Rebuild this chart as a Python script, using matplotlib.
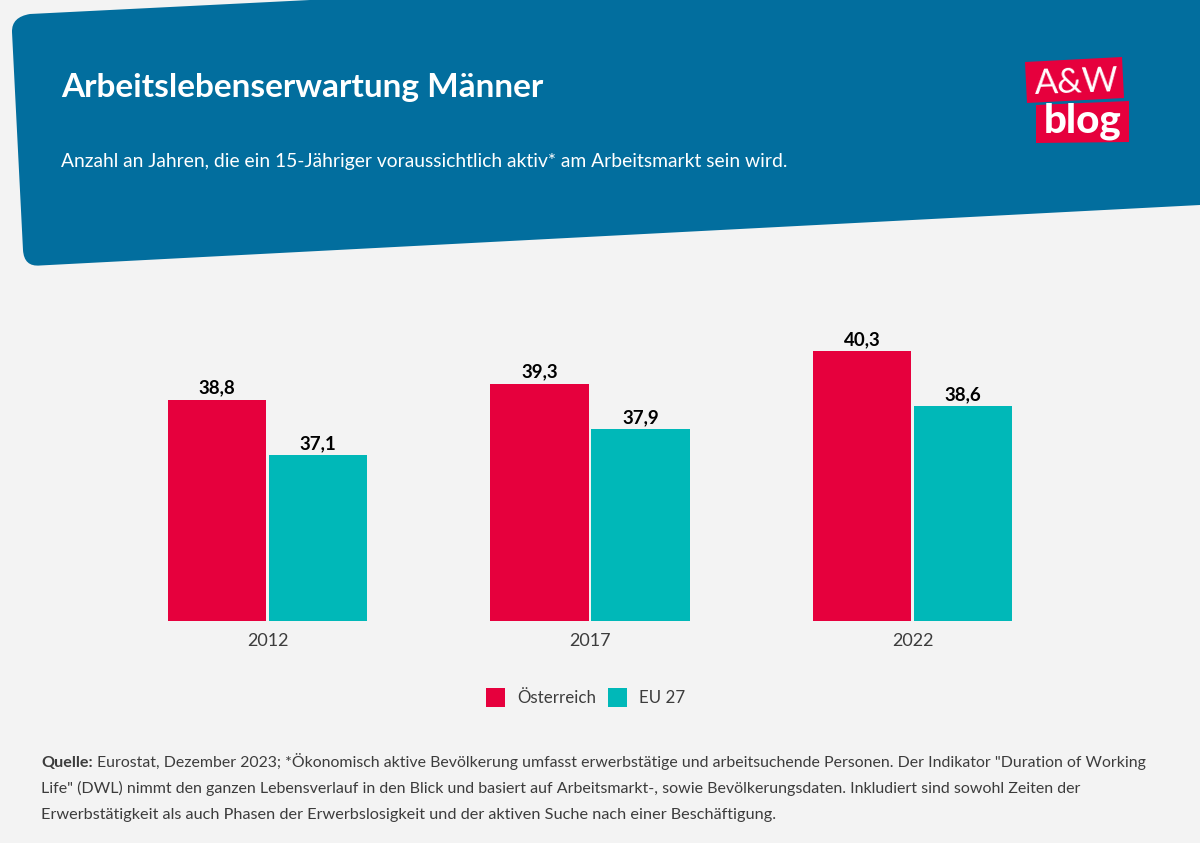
import matplotlib
matplotlib.use("Agg")
import matplotlib.pyplot as plt
import numpy as np
from matplotlib.patches import PathPatch, Polygon
from matplotlib.path import Path

# data
jahre = ["2012", "2017", "2022"]
oesterreich = [38.8, 39.3, 40.3]
eu27 = [37.1, 37.9, 38.6]

BG = "#f3f3f3"
BLAU = "#026e9e"
ROT = "#e6003d"
TEAL = "#00b8b8"
TXT = "#3c3c3c"
FONT = ["Lato", "DejaVu Sans"]
plt.rcParams["font.family"] = FONT

fig = plt.figure(figsize=(12, 8.43), dpi=100, facecolor=BG)

# overlay in pixel coordinates for header and logo
bg = fig.add_axes([0, 0, 1, 1], zorder=0)
bg.set_xlim(0, 1200)
bg.set_ylim(843, 0)
bg.axis("off")

verts = [(12, 32), (11.5, 17), (30, 14), (310, 0), (1200, 0), (1200, 205),
         (40, 265.5), (24, 267), (23, 250), (12, 32)]
codes = [Path.MOVETO, Path.CURVE3, Path.CURVE3, Path.LINETO, Path.LINETO, Path.LINETO,
         Path.LINETO, Path.CURVE3, Path.CURVE3, Path.CLOSEPOLY]
bg.add_patch(PathPatch(Path(verts, codes), fc=BLAU, ec="none"))

bg.text(61, 88, "Arbeitslebenserwartung Männer", color="white", fontsize=24,
        fontweight="bold", va="center")
bg.text(61, 161, "Anzahl an Jahren, die ein 15-Jähriger voraussichtlich aktiv* am Arbeitsmarkt sein wird.",
        color="white", fontsize=13.9, va="center")

# logo
bg.add_patch(Polygon([(1025, 62), (1122, 57), (1124, 98), (1027, 103)], fc=ROT, ec="none"))
bg.add_patch(Polygon([(1036, 105), (1129, 101), (1129, 142), (1036, 143)], fc=ROT, ec="none"))
bg.text(1077, 83, "A&W", color="white", fontsize=25, ha="center", va="center", rotation=2)
bg.text(1083, 121, "blog", color="white", fontsize=29, fontweight="black", ha="center", va="center")

# bars
ax = fig.add_axes([106.25 / 1200, (843 - 621) / 843, 967.5 / 1200, 300 / 843], zorder=1)
ax.patch.set_alpha(0)
x = np.arange(len(jahre))
b = 101 / 322.5
b1 = ax.bar(x - b / 2, oesterreich, b * 0.98, color=ROT, label="Österreich")
b2 = ax.bar(x + b / 2, eu27, b * 0.98, color=TEAL, label="EU 27")
ax.set_xlim(-0.5, 2.5)
ax.set_ylim(32, 32 + 300 / 32.5)
for bars in (b1, b2):
    ax.bar_label(bars, labels=[f"{v:.1f}".replace(".", ",") for v in bars.datavalues],
                 padding=2.5, fontsize=13.5, fontweight="bold", color="black")
ax.set_xticks(x, jahre)
ax.tick_params(axis="x", length=0, pad=8.5, labelsize=13, labelcolor=TXT)
ax.set_yticks([])
for s in ax.spines.values():
    s.set_visible(False)

ax.legend(loc="center", bbox_to_anchor=(585.5 / 1200, (843 - 697.5) / 843),
          bbox_transform=fig.transFigure, ncol=2, frameon=False, fontsize=12.2,
          handlelength=1.12, handleheight=1.33, handletextpad=0.71, columnspacing=0.71,
          labelcolor=TXT)

# footer, the bold word and the rest of the line share one baseline
q = bg.text(41, 767, "Quelle:", fontsize=11.6, fontweight="bold", color=TXT, va="baseline")
q_ende = q.get_window_extent(fig.canvas.get_renderer()).x1
bg.text(q_ende + 4, 767, "Eurostat, Dezember 2023; *Ökonomisch aktive Bevölkerung umfasst erwerbstätige und arbeitsuchende Personen. Der Indikator \"Duration of Working",
        fontsize=11.47, color=TXT, va="baseline")
bg.text(41, 793, "Life\" (DWL) nimmt den ganzen Lebensverlauf in den Blick und basiert auf Arbeitsmarkt-, sowie Bevölkerungsdaten. Inkludiert sind sowohl Zeiten der",
        fontsize=11.57, color=TXT, va="baseline")
bg.text(41, 819, "Erwerbstätigkeit als auch Phasen der Erwerbslosigkeit und der aktiven Suche nach einer Beschäftigung.",
        fontsize=11.7, color=TXT, va="baseline")

fig.savefig("out.png", dpi=100, facecolor=BG)
